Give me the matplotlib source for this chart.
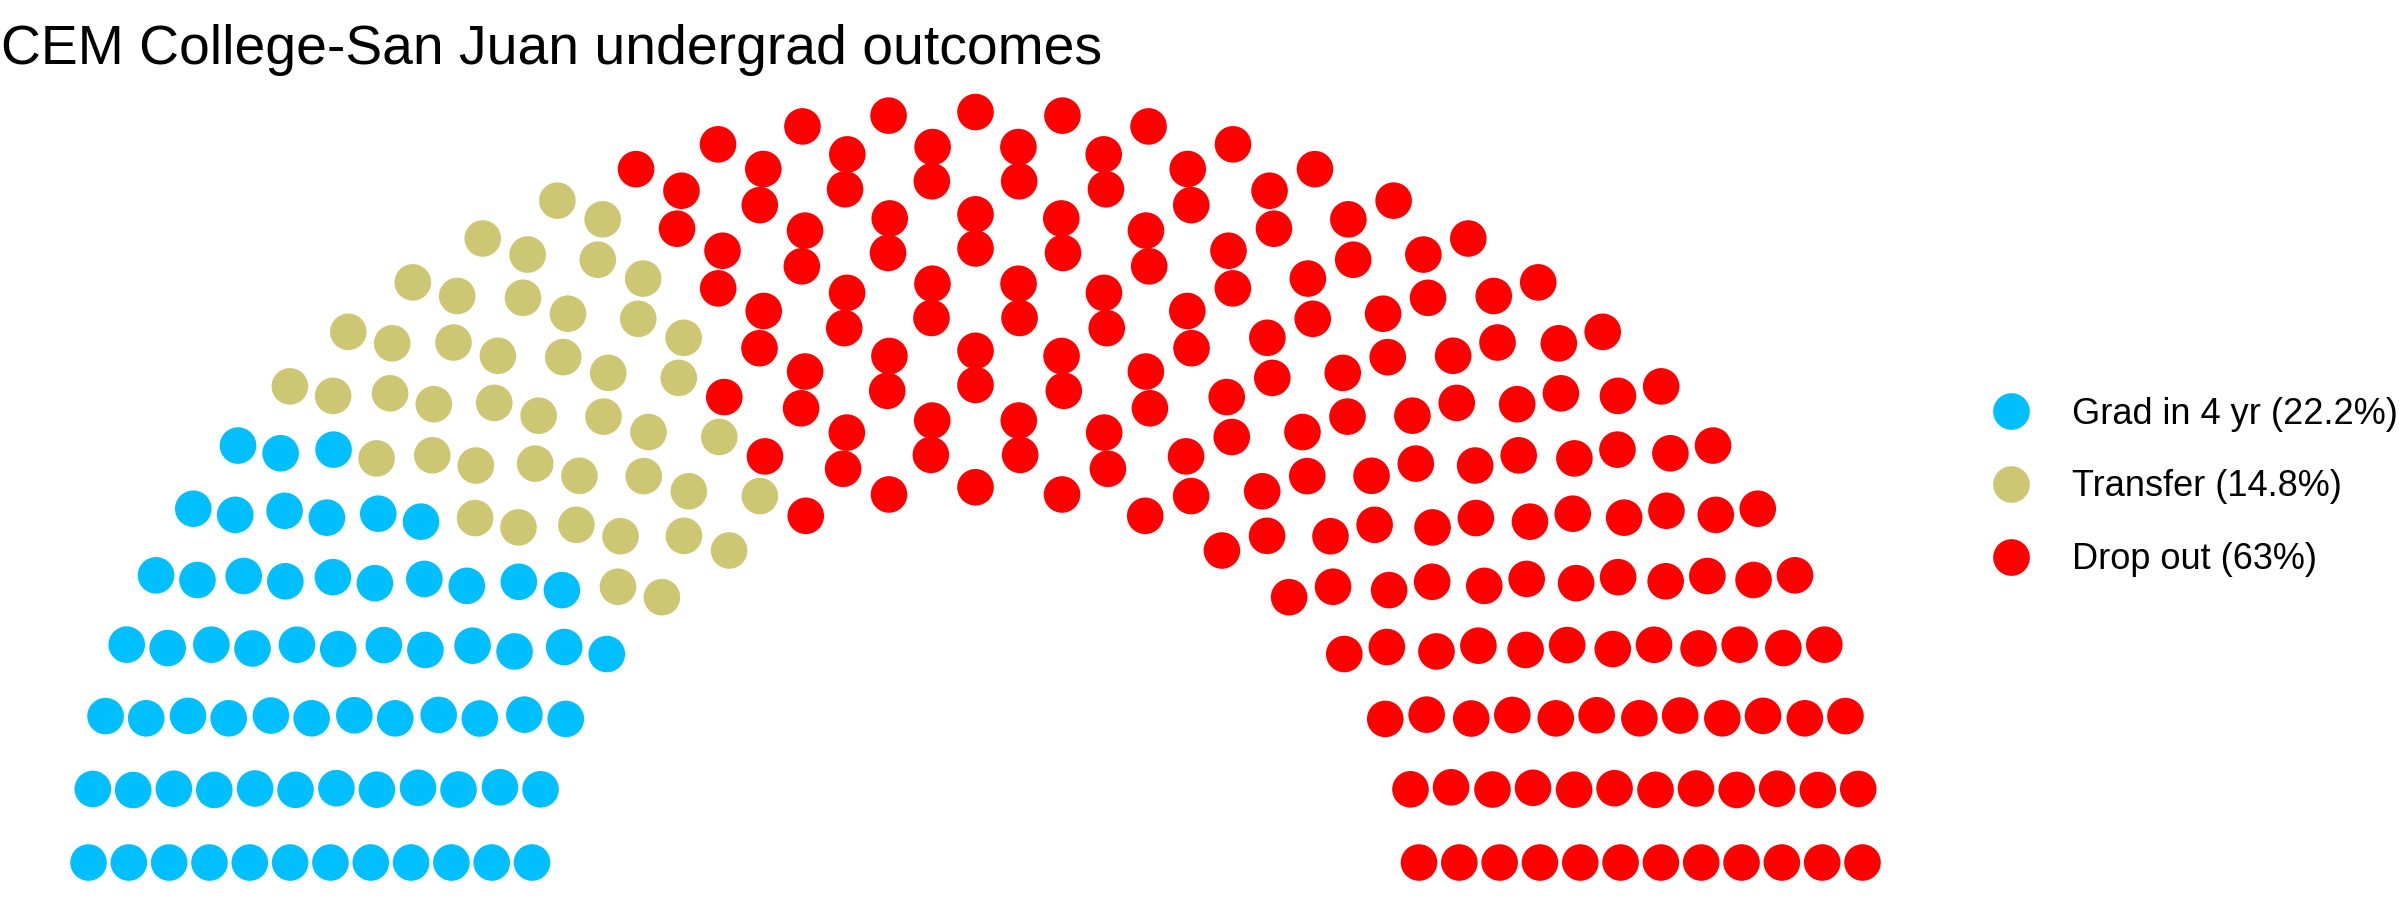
import numpy as np
import matplotlib
matplotlib.use("Agg")
import matplotlib.pyplot as plt
from matplotlib.lines import Line2D

# outcome groups, their shares and seat counts (share x 3, rounded)
categories = ["Grad in 4 yr", "Transfer", "Drop out"]
shares = [22.2, 14.8, 63]
seats = [67, 44, 189]
colors = ["#00BFFF", "#CDC673", "#FF0000"]
n_rows = 12

plt.rcParams["font.family"] = ["Liberation Sans", "DejaVu Sans"]


def parliament_layout(total, rows):
    """seat coordinates for a semicircle, ordered left to right"""
    radii = np.linspace(1, 2, rows)
    left = total
    xs, ys, rr, th = [], [], [], []
    for i in range(rows):
        count = round(left * radii[i] / radii[i:].sum())
        theta = np.linspace(0, np.pi, count)
        left -= count
        xs.extend(radii[i] * np.cos(theta))
        ys.extend(radii[i] * np.sin(theta))
        rr.extend([i] * count)
        th.extend(theta)
    xs, ys, rr, th = map(np.array, (xs, ys, rr, th))
    order = np.lexsort((-rr, -np.round(th, 9)))
    return xs[order], ys[order]


x, y = parliament_layout(sum(seats), n_rows)
party = np.repeat(np.arange(len(seats)), seats)

fig = plt.figure(figsize=(24, 9), dpi=100)
ax = fig.add_axes([0, 0, 1, 1])
ax.scatter(x, y, s=694, c=[colors[p] for p in party], linewidths=0)
ax.set_xlim(-2.1996, 3.2120)
ax.set_ylim(-0.0999, 2.2985)
ax.axis("off")

handles = [
    Line2D([], [], marker="o", linestyle="", markersize=26.4,
           markerfacecolor=c, markeredgewidth=0)
    for c in colors
]
labels = [f"{c} ({s:g}%)" for c, s in zip(categories, shares)]
fig.legend(handles, labels, loc="center left",
           bbox_to_anchor=(1993 / 2400, 1 - 487 / 900),
           frameon=False, fontsize=26, handlelength=1.0,
           handletextpad=1.2, labelspacing=1.045,
           borderpad=0, borderaxespad=0)

fig.text(0.0004, 1 - 64 / 900, "CEM College-San Juan undergrad outcomes",
         fontsize=39.8, va="baseline", ha="left")

fig.savefig("out.png", dpi=100)
